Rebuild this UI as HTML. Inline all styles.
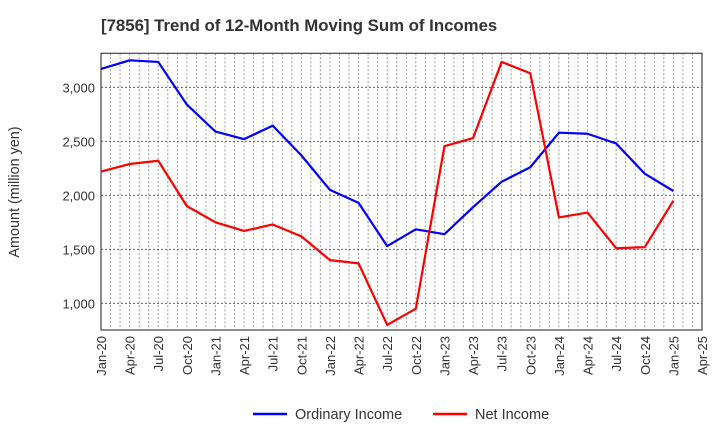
<!DOCTYPE html>
<html><head><meta charset="utf-8"><style>
body{margin:0;background:#fff;font-family:"Liberation Sans",sans-serif}
svg text{font-family:"Liberation Sans",sans-serif}
</style></head><body>
<svg id="c" width="720" height="440" xmlns="http://www.w3.org/2000/svg">
<text x="101" y="31" font-size="16.8" font-weight="bold" fill="#333">[7856]  Trend of 12-Month Moving Sum of Incomes</text>
<text transform="translate(19,192) rotate(-90)" text-anchor="middle" font-size="14.4" fill="#333">Amount (million yen)</text>
<g id="grid"></g><g id="axes"></g><g id="series"></g>
<g>
<line x1="253" y1="414" x2="287" y2="414" stroke="#0000ff" stroke-width="2.5"/>
<text x="295" y="419" font-size="14.5" fill="#333">Ordinary Income</text>
<line x1="433" y1="414" x2="467" y2="414" stroke="#ff0000" stroke-width="2.5"/>
<text x="475" y="419" font-size="14.5" fill="#333">Net Income</text>
</g>
</svg>
<script>
const categories=["Jan-20","Apr-20","Jul-20","Oct-20","Jan-21","Apr-21","Jul-21","Oct-21","Jan-22","Apr-22","Jul-22","Oct-22","Jan-23","Apr-23","Jul-23","Oct-23","Jan-24","Apr-24","Jul-24","Oct-24","Jan-25","Apr-25"];
const ordinaryIncome=[3170,3250,3235,2840,2590,2520,2645,2370,2050,1930,1530,1685,1640,1890,2126,2260,2580,2570,2480,2200,2040];
const netIncome=[2220,2290,2320,1900,1750,1670,1730,1620,1400,1370,800,950,2455,2530,3235,3130,1795,1840,1510,1520,1950];
const yTicks=[1000,1500,2000,2500,3000];
const yTickLabels=["1,000","1,500","2,000","2,500","3,000"];
const L=101,R=702,T=53.3,B=330,yMin=753,yMax=3315,nMonths=63;
const NS="http://www.w3.org/2000/svg";
function xm(m){return L+(R-L)*m/nMonths;}
function xs(i){return xm(i*3);}
function ys(v){return B-(B-T)*(v-yMin)/(yMax-yMin);}
function mk(tag,attrs,parent){const e=document.createElementNS(NS,tag);for(const k in attrs)e.setAttribute(k,attrs[k]);parent.appendChild(e);return e;}
const grid=document.getElementById('grid'),axes=document.getElementById('axes'),series=document.getElementById('series');
for(let m=1;m<nMonths;m++){const l=mk('line',{x1:xm(m),x2:xm(m),y1:T,y2:B,stroke:'#999','stroke-width':1,'stroke-dasharray':'2,2'},grid);

}
yTicks.forEach((v,i)=>{const l=mk('line',{x1:L,x2:R,y1:ys(v),y2:ys(v),stroke:'#666','stroke-width':1,'stroke-dasharray':'2,2'},grid);


const t=mk('text',{x:L-6,y:ys(v)+5,'text-anchor':'end','font-size':13,fill:'#333'},axes);t.textContent=yTickLabels[i];

});
categories.forEach((c,i)=>{const t=mk('text',{transform:`translate(${xs(i)+5},336) rotate(-90)`,'text-anchor':'end','font-size':13,fill:'#333'},axes);t.textContent=c;

});
const frame=mk('rect',{x:L,y:T,width:R-L,height:B-T,fill:'none',stroke:'#444','stroke-width':1.2},axes);


function line(vals,col,name){const p=mk('polyline',{points:vals.map((v,i)=>xs(i)+','+ys(v)).join(' '),fill:'none',stroke:col,'stroke-width':2.2,'stroke-linejoin':'round'},series);

}
line(ordinaryIncome,'#0000ff','ordinary-income-line');
line(netIncome,'#ff0000','net-income-line');
</script>
</body></html>
